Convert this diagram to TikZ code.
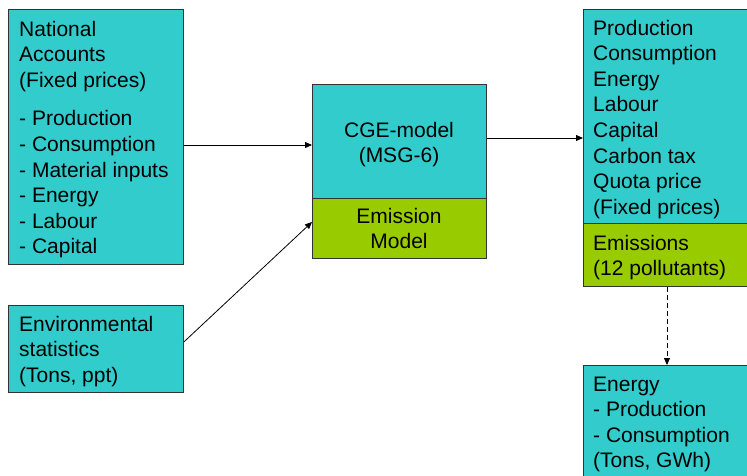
\documentclass[tikz,border=0pt]{standalone}
\usepackage{fontspec}
\setmainfont{Liberation Sans}
\usetikzlibrary{arrows.meta}
\definecolor{teal1}{HTML}{33CCCC}
\definecolor{green1}{HTML}{99CC00}
\definecolor{edge1}{HTML}{333333}
\begin{document}
\begin{tikzpicture}[x=1pt,y=-1pt,
  box/.style={draw=edge1,line width=0.8pt,fill=teal1,inner sep=0pt,anchor=north west},
  gbox/.style={draw=edge1,line width=0.8pt,fill=green1,inner sep=0pt,anchor=north west},
  txt/.style={inner sep=0pt,align=left,anchor=base west,font=\fontsize{21}{25.6}\selectfont},
  ctxt/.style={inner sep=0pt,align=center,anchor=base,font=\fontsize{21}{25.6}\selectfont},
  arr/.style={draw=black,line width=0.8pt,-{Triangle[length=7pt,width=6pt]}}]
\useasboundingbox (0,0) rectangle (747,475);
\clip (0,0) rectangle (747,475);
% National accounts (anchors at baseline of last line)
\node[box,minimum width=175pt,minimum height=255pt] (na) at (8,9) {};
\node[txt] (natx) at (19,253.8) {National\\Accounts\\(Fixed prices)\\[13pt]- Production\\- Consumption\\- Material inputs\\- Energy\\- Labour\\- Capital};
% Environmental statistics
\node[box,minimum width=175pt,minimum height=87pt] (env) at (8,305) {};
\node[txt] (envtx) at (19,382.2) {Environmental\\statistics\\(Tons, ppt)};
% CGE model
\node[box,minimum width=174pt,minimum height=174pt] (cge) at (312,84) {};
\node[gbox,minimum width=174pt,minimum height=60pt] (em) at (312,198) {};
\node[ctxt] (cgetx) at (399,162.6) {CGE-model\\(MSG-6)};
\node[ctxt] (emtx) at (399,248.6) {Emission\\Model};
% Output
\node[box,minimum width=180pt,minimum height=277pt] (out) at (583,9) {};
\node[gbox,minimum width=180pt,minimum height=63pt] (outem) at (583,223) {};
\node[txt] (outtx) at (593,214.2) {Production\\Consumption\\Energy\\Labour\\Capital\\Carbon tax\\Quota price\\(Fixed prices)};
\node[txt] (outemtx) at (593,275.6) {Emissions\\(12 pollutants)};
% Energy
\node[box,minimum width=180pt,minimum height=130pt] (en) at (583,365) {};
\node[txt] (entx) at (593,467.8) {Energy\\- Production\\- Consumption\\(Tons, GWh)};
% connectors
\draw[arr] (na.east |- 0,145) -- (cge.west |- 0,145);
\draw[arr] (env.east |- 0,342) -- (em.west |- 0,222);
\draw[arr] (cge.east |- 0,138) -- (out.west |- 0,138);
\draw[arr,dash pattern=on 5pt off 3pt] (outem.south -| 667,0) -- (en.north -| 667,0);
\end{tikzpicture}
\end{document}
